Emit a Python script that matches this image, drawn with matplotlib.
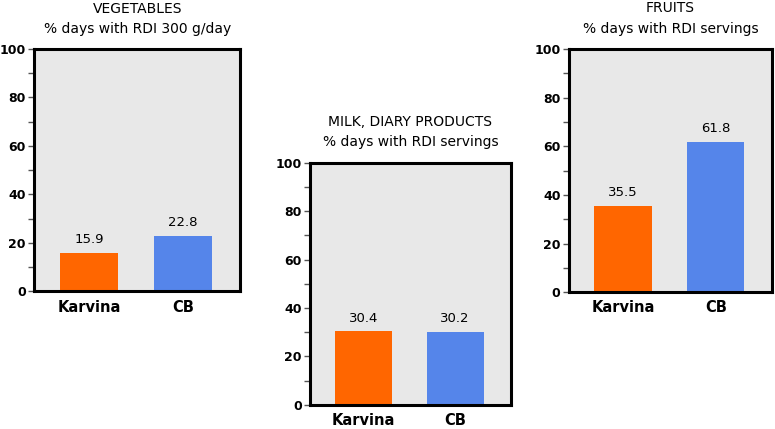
import matplotlib.pyplot as plt

# data
categories = ["Karvina", "CB"]
vegetables = [15.9, 22.8]
milk = [30.4, 30.2]
fruits = [35.5, 61.8]
titles = [
    "VEGETABLES\n% days with RDI 300 g/day",
    "MILK, DIARY PRODUCTS\n% days with RDI servings",
    "FRUITS\n% days with RDI servings",
]
bar_colors = ["#FF6600", "#5585EA"]

plt.rcParams['font.family'] = ['DejaVu Sans']

fig = plt.figure(figsize=(7.75, 4.29), dpi=100)

# axes boxes [left, bottom, width, height] in figure fraction
boxes = [
    [0.044, 0.321, 0.266, 0.565],
    [0.400, 0.056, 0.259, 0.565],
    [0.734, 0.319, 0.262, 0.567],
]

for box, values, title in zip(boxes, [vegetables, milk, fruits], titles):
    ax = fig.add_axes(box)
    ax.set_facecolor("#E8E8E8")
    x = range(len(categories))
    ax.bar(x, values, width=0.62, color=bar_colors, zorder=2)
    for xi, v in zip(x, values):
        ax.text(xi, v + 2.8, f"{v:.1f}", ha="center", va="bottom", fontsize=9.5)
    ax.set_ylim(0, 100)
    ax.set_xlim(-0.585, 1.606)
    ax.set_yticks(range(0, 101, 20))
    ax.set_yticks(range(10, 100, 20), minor=True)
    ax.tick_params(axis="y", which="both", direction="out", length=4.5, width=1,
                   color="#555555", labelsize=9, pad=1.5)
    for lbl in ax.get_yticklabels():
        lbl.set_fontweight("bold")
    ax.set_xticks(list(x))
    ax.set_xticklabels(categories, fontsize=10.5, fontweight="bold")
    ax.tick_params(axis="x", length=0, pad=6)
    for sp in ax.spines.values():
        sp.set_linewidth(2.2)
        sp.set_color("black")
    ax.text(0.5, 1.055, title, transform=ax.transAxes, ha="center", va="bottom",
            fontsize=10, linespacing=1.55)

fig.savefig("out.png", dpi=100)
